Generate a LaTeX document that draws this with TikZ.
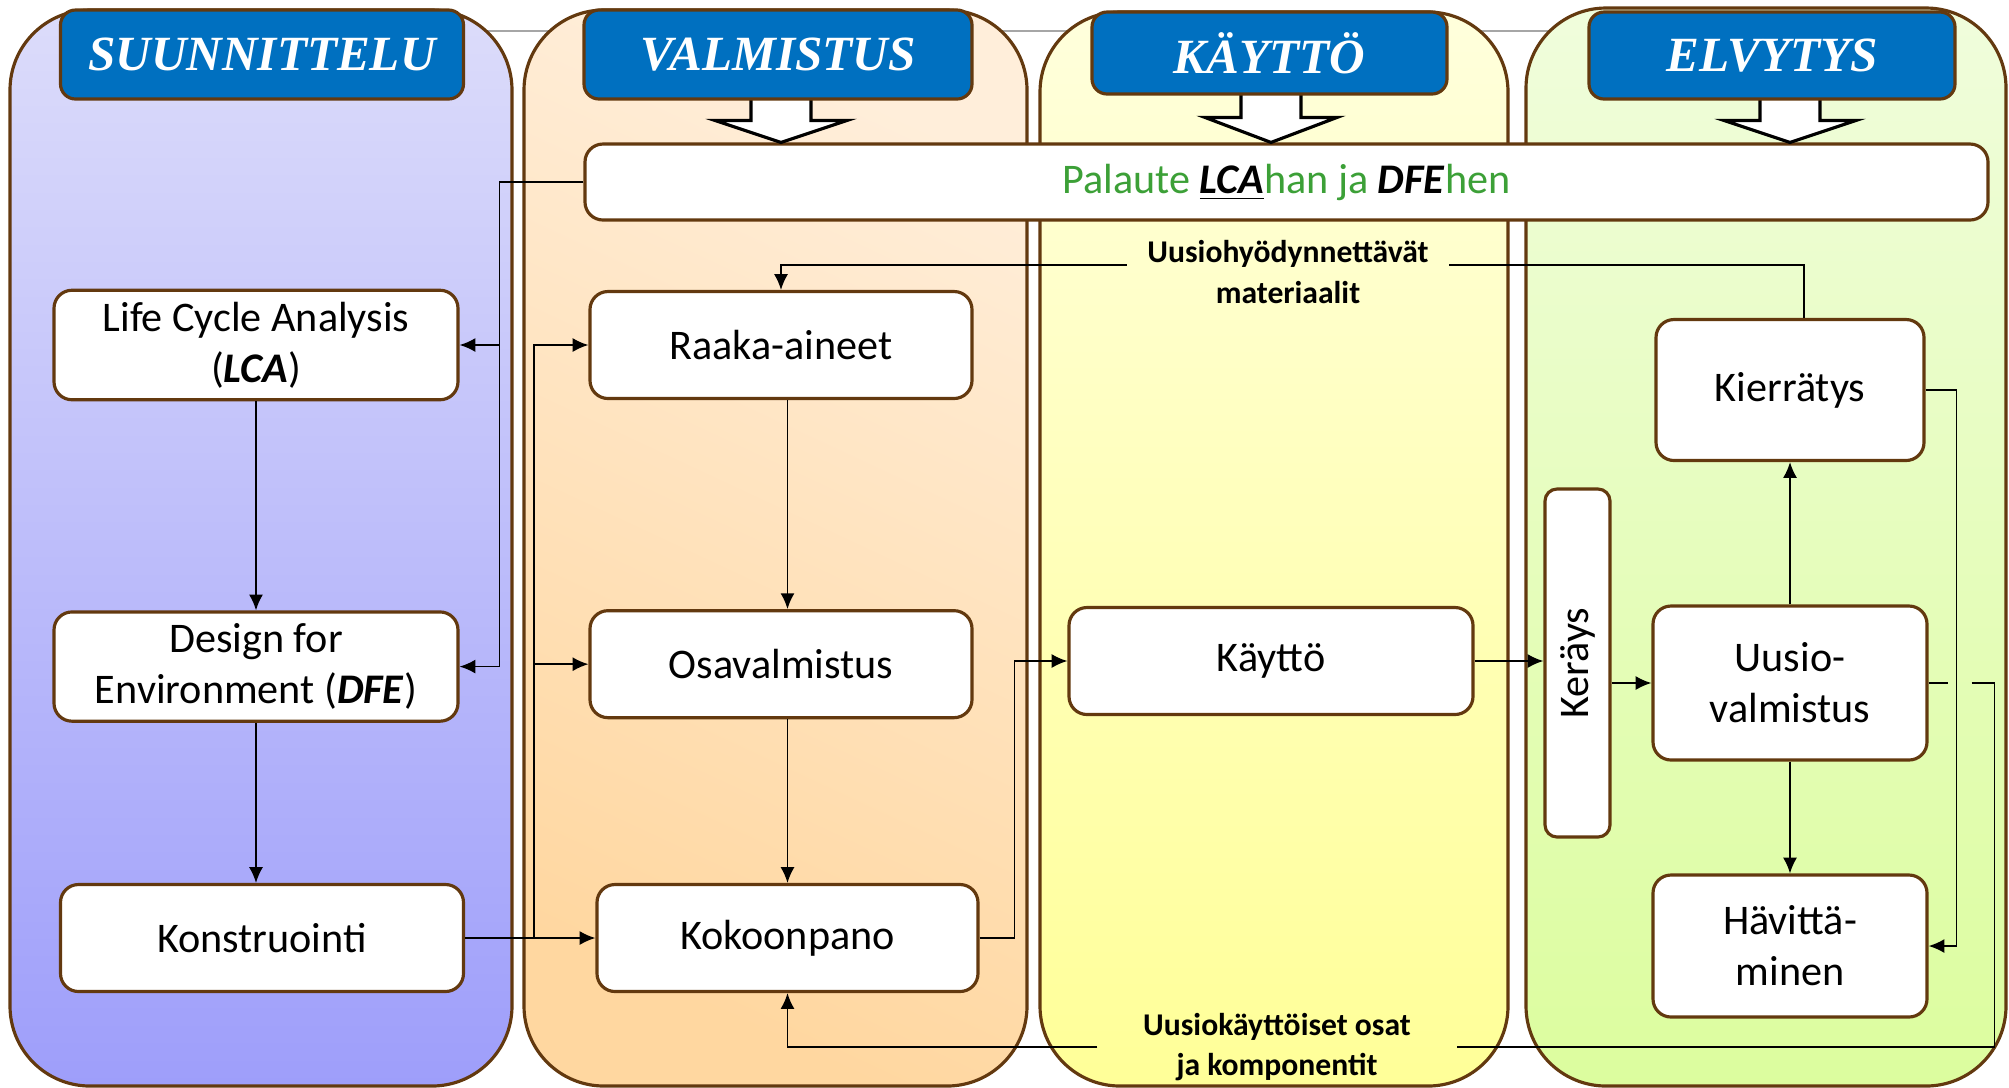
\documentclass[tikz,border=0pt]{standalone}
\usepackage{fontspec}
\setmainfont{Carlito}
\newfontfamily\hdrfont{Liberation Serif}
\usetikzlibrary{arrows.meta,positioning}
\definecolor{brn}{RGB}{99,57,15}
\definecolor{hdrblue}{RGB}{0,112,192}
\definecolor{palgreen}{RGB}{60,160,55}

\begin{document}
\begin{tikzpicture}[>={Latex[length=4.5pt,width=4pt]}, line width=0.5pt]
        \tikzstyle{lane}=[draw=brn, line width=0.9pt, rounded corners=0.8cm]
        \tikzstyle{hdr}=[draw=brn, line width=0.9pt, fill=hdrblue, rounded corners=0.15cm, text=white, font=\hdrfont\bfseries\itshape\fontsize{14}{16}\selectfont]
        \tikzstyle{box}=[draw=brn, line width=0.9pt, fill=white, rounded corners=0.18cm, align=center, font=\fontsize{12}{14.5}\selectfont, minimum height=1.07cm]
        \tikzstyle{lbl}=[align=center, font=\bfseries\fontsize{9}{11.4}\selectfont]
        \tikzstyle{hollow}=[draw=black, line width=0.9pt, fill=white]

        \useasboundingbox (0,0) rectangle (20.09,-10.87);

        \draw[gray!70, line width=0.8pt] (4.6,-0.31) -- (15.9,-0.31);

        % lanes
        \draw[lane, top color={rgb,255:red,220;green,220;blue,250}, bottom color={rgb,255:red,158;green,158;blue,250}] (0.10,-0.10) rectangle (5.12,-10.86);
        \draw[lane, top color={rgb,255:red,255;green,238;blue,218}, bottom color={rgb,255:red,255;green,215;blue,160}, shading angle=-25] (5.24,-0.10) rectangle (10.27,-10.86);
        \draw[lane, top color={rgb,255:red,255;green,255;blue,220}, bottom color={rgb,255:red,255;green,255;blue,152}] (10.40,-0.12) rectangle (15.08,-10.86);
        \draw[lane, top color={rgb,255:red,240;green,253;blue,220}, bottom color={rgb,255:red,220;green,253;blue,158}] (15.26,-0.08) rectangle (20.06,-10.86);

        \node[box, minimum width=14.03cm, minimum height=0.76cm] (pal) at (12.865,-1.82)
            {\textcolor{palgreen}{Palaute \textcolor{black}{\underline{\textbf{\textit{LCA}}}}han ja \textcolor{black}{\textbf{\textit{DFE}}}hen}};

        % design
        \node[box, minimum width=4.04cm] (lca) at (2.56,-3.45) {Life Cycle Analysis\\(\textbf{\textit{LCA}})};
        \node[box, minimum width=4.04cm] (dfe) [below=2.09cm of lca] {Design for\\Environment (\textbf{\textit{DFE}})};
        \node[box, minimum width=4.03cm] (kons) at (2.62,-9.38) {Konstruointi};

        % manufacturing
        \node[box, minimum width=3.82cm] (raaka) at (7.81,-3.45) {Raaka-aineet};
        \node[box, minimum width=3.82cm] (osa) [below=2.09cm of raaka] {Osavalmistus};
        \node[box, minimum width=3.81cm] (koko) at (7.875,-9.38) {Kokoonpano};

        % use
        \node[box, minimum width=4.04cm] (kaytto) at (12.71,-6.61) {Käyttö};

        % recovery
        \node[box, minimum width=0.65cm, minimum height=3.48cm, rounded corners=0.12cm] (kera) at (15.775,-6.63) {\rotatebox{90}{Keräys}};
        \node[box, minimum width=2.68cm, minimum height=1.41cm] (kier) at (17.9,-3.9) {Kierrätys};
        \node[box, minimum width=2.74cm, minimum height=1.54cm] (uusio) at (17.9,-6.83) {Uusio-\\valmistus};
        \node[box, minimum width=2.74cm, minimum height=1.42cm] (havi) at (17.9,-9.46) {Hävittä-\\minen};

        \node[lbl, inner xsep=0.2cm] (mat) at (12.88,-2.72) {Uusiohyödynnettävät\\materiaalit};
        \node[lbl, inner xsep=0.45cm] (komp) at (12.77,-10.47) {Uusiokäyttöiset osat\\ja komponentit};

        % block arrows
        \draw[hollow] (raaka |- pal.north) -- ++(-0.66,0.22) -- ++(0.36,0) -- ++(0,0.3) -- ++(0.6,0) -- ++(0,-0.3) -- ++(0.36,0) -- cycle;
        \draw[hollow] (kaytto |- pal.north) -- ++(-0.66,0.25) -- ++(0.36,0) -- ++(0,0.3) -- ++(0.6,0) -- ++(0,-0.3) -- ++(0.36,0) -- cycle;
        \draw[hollow] (uusio |- pal.north) -- ++(-0.66,0.22) -- ++(0.36,0) -- ++(0,0.3) -- ++(0.6,0) -- ++(0,-0.3) -- ++(0.36,0) -- cycle;

        % headers
        \node[hdr, minimum width=4.03cm, minimum height=0.89cm] (suu) at (2.62,-0.545) {SUUNNITTELU};
        \node[hdr, minimum width=3.88cm, minimum height=0.89cm] (val) at (7.78,-0.545) {VALMISTUS};
        \node[hdr, minimum width=3.55cm, minimum height=0.82cm] (kay) at (12.695,-0.53) {KÄYTTÖ};
        \node[hdr, minimum width=3.66cm, minimum height=0.87cm] (elv) at (17.72,-0.555) {ELVYTYS};

        % connectors
        \draw[->] (pal.west) -- ++(-0.84,0) |- (lca.east);
        \draw[->] (pal.west) -- ++(-0.84,0) |- (dfe.east);
        \draw[->] (lca) -- (dfe);
        \draw[->] (dfe.south) -- (dfe.south |- kons.north);

        \draw[->] (kons.east) -- (koko.west);
        \draw[->] (kons.east) -- ++(0.69,0) |- (raaka.west);
        \draw[->] (kons.east) -- ++(0.69,0) |- (osa.west);
        \draw[->] (raaka.south -| koko) -- (osa.north -| koko);
        \draw[->] (osa.south -| koko) -- (koko.north);

        \draw[->] (koko.east) -- ++(0.35,0) |- (kaytto.west);
        \draw[->] (kaytto.east) -- (kaytto.east -| kera.west);
        \draw[->] (kera.east |- uusio) -- (uusio.west);
        \draw[->] (uusio) -- (kier);
        \draw[->] (uusio) -- (havi);
        \draw[->] (kier.east) -- ++(0.31,0) |- (havi.east);

        \draw (uusio.east) -- ++(0.19,0);
        \draw (uusio.east) ++(0.43,0) -- ++(0.23,0) |- (komp.east);
        \draw[->] (komp.west) -| (koko.south);

        \draw ([xshift=0.14cm]kier.north) |- ([yshift=0.07cm]mat.east);
        \draw[->] ([yshift=0.07cm]mat.west) -| (raaka.north);
\end{tikzpicture}
\end{document}
